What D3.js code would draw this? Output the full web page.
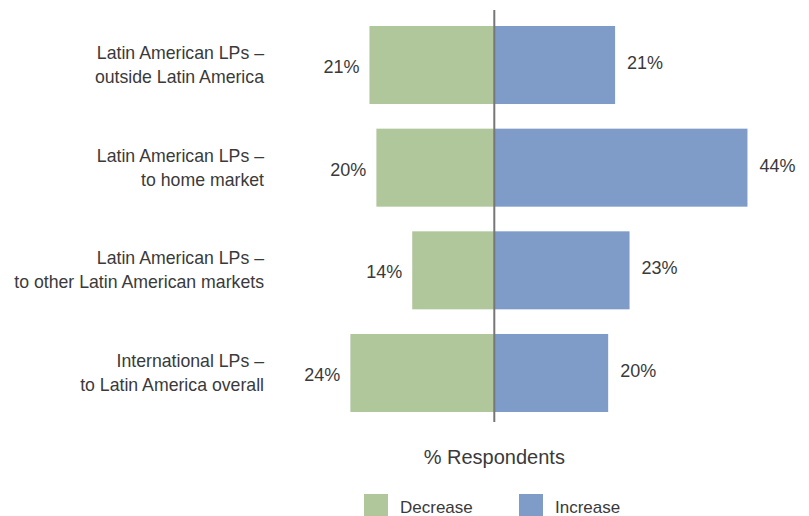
<!DOCTYPE html>
<html>

<head>
  <script src="https://d3js.org/d3.v7.min.js"></script>
  <style>
    body { margin: 0; background: #fff; }
    text { font-family: "Liberation Sans", Arial, sans-serif; fill: #3a3a3a; }
  </style>
</head>

<body>
  <svg id="chart" width="809" height="516"></svg>
  <script>
    // data
    const categories = [
      "Latin American LPs – outside Latin America",
      "Latin American LPs – to home market",
      "Latin American LPs – to other Latin American markets",
      "International LPs – to Latin America overall"
    ];
    const categoryLines = [
      ["Latin American LPs –", "outside Latin America"],
      ["Latin American LPs –", "to home market"],
      ["Latin American LPs –", "to other Latin American markets"],
      ["International LPs –", "to Latin America overall"]
    ];
    const decreaseValues = [21.6, 20.4, 14.2, 24.9];
    const increaseValues = [20.9, 43.8, 23.4, 19.7];
    const decreaseLabels = ["21%", "20%", "14%", "24%"];
    const increaseLabels = ["21%", "44%", "23%", "20%"];
    const seriesNames = ["Decrease", "Increase"];
    const seriesColors = ["#b0c79c", "#7f9cc9"];

    let svg = d3.select('svg#chart');
    const center = 494.3;
    const pxPerUnit = 5.78;

    const xScale = d3.scaleLinear()
      .domain([-30, 50])
      .range([center - 30 * pxPerUnit, center + 50 * pxPerUnit]);
    const yScale = d3.scaleBand()
      .domain(categories)
      .range([26, 412])
      .paddingInner(0.24)
      .paddingOuter(0);

    const rows = categories.map((c, i) => ({
      cat: c,
      lines: categoryLines[i],
      dec: decreaseValues[i],
      inc: increaseValues[i],
      decLabel: decreaseLabels[i],
      incLabel: increaseLabels[i]
    }));

    //bars
    svg.append('g').selectAll('rect').data(rows)
      .join('rect')
      .attr('x', d => xScale(-d.dec))
      .attr('y', d => yScale(d.cat))
      .attr('width', d => xScale(0) - xScale(-d.dec))
      .attr('height', yScale.bandwidth())
      .attr('fill', seriesColors[0]);
    svg.append('g').selectAll('rect').data(rows)
      .join('rect')
      .attr('x', xScale(0))
      .attr('y', d => yScale(d.cat))
      .attr('width', d => xScale(d.inc) - xScale(0))
      .attr('height', yScale.bandwidth())
      .attr('fill', seriesColors[1]);

    //center line
    svg.append('line')
      .attr('x1', xScale(0)).attr('x2', xScale(0))
      .attr('y1', yScale.range()[0] - 16)
      .attr('y2', yScale.range()[1] + 10)
      .attr('stroke', '#777')
      .attr('stroke-width', 2);

    //value labels
    svg.append('g').selectAll('text').data(rows)
      .join('text')
      .attr('x', d => xScale(-d.dec) - 10)
      .attr('y', d => yScale(d.cat) + yScale.bandwidth() / 2 + 8)
      .style('text-anchor', 'end')
      .style('font-size', '18px')
      .text(d => d.decLabel);
    svg.append('g').selectAll('text').data(rows)
      .join('text')
      .attr('x', d => xScale(d.inc) + 12)
      .attr('y', d => yScale(d.cat) + yScale.bandwidth() / 2 + 4)
      .style('text-anchor', 'start')
      .style('font-size', '18px')
      .text(d => d.incLabel);

    //category labels
    let catLabels = svg.append('g').selectAll('text').data(rows)
      .join('text')
      .attr('x', 264)
      .attr('y', d => yScale(d.cat) + yScale.bandwidth() / 2)
      .style('text-anchor', 'end')
      .style('font-size', '17.7px');
    catLabels.selectAll('tspan').data(d => d.lines)
      .join('tspan')
      .attr('x', 264)
      .attr('dy', (d, i) => i == 0 ? -6 : 24)
      .text(d => d);

    //axis title
    svg.append('text')
      .attr('x', xScale(0))
      .attr('y', 464)
      .style('text-anchor', 'middle')
      .style('font-size', '20px')
      .text('% Respondents');

    //legend
    const legendX = [364, 519];
    let legend = svg.append('g').selectAll('g').data(seriesNames)
      .join('g')
      .attr('transform', (d, i) => `translate(${legendX[i]},494)`);
    legend.append('rect')
      .attr('width', 24)
      .attr('height', 24)
      .attr('fill', (d, i) => seriesColors[i]);
    legend.append('text')
      .attr('x', 36)
      .attr('y', 19)
      .style('font-size', '17px')
      .text(d => d);
  </script>
</body>

</html>
